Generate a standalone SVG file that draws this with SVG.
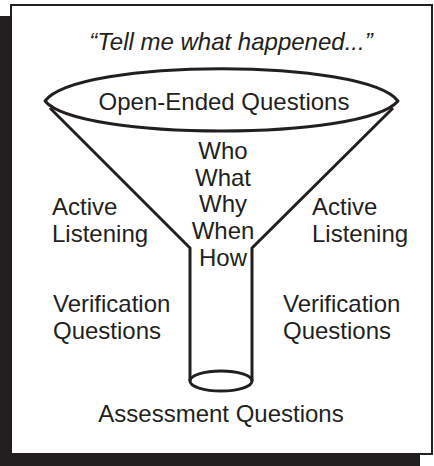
<svg xmlns="http://www.w3.org/2000/svg" width="434" height="466" viewBox="0 0 434 466">
<style>
text{font-family:"Liberation Sans",Arial,sans-serif;font-size:24px;fill:#231f20}
.c{text-anchor:middle}
.ln{fill:none;stroke:#231f20;stroke-width:3;stroke-linejoin:round}
</style>
<rect x="0" y="16" width="420" height="450" fill="#231f20"/>
<rect x="11" y="5" width="421" height="449" fill="#fff" stroke="#231f20" stroke-width="2"/>
<text class="c" x="231" y="49.5" font-style="italic">“Tell me what happened...”</text>
<g id="connectors">
<path class="ln" d="M50,108 L190,248 L190,381"/>
<path class="ln" d="M393,108 L252,248 L252,381"/>
</g>
<g id="top">
<path class="ln" d="M45,101 C78,58 364,58 398,101 C364,141 78,141 45,101 Z"/>
<text class="c" x="224" y="109.5">Open-Ended Questions</text>
</g>
<g id="bottom">
<ellipse class="ln" cx="221" cy="381" rx="31" ry="10"/>
<text class="c" x="221" y="422">Assessment Questions</text>
</g>
<g id="middle">
<text class="c" x="223" y="159">Who</text>
<text class="c" x="223" y="185.7">What</text>
<text class="c" x="223" y="212.4">Why</text>
<text class="c" x="223" y="239.1">When</text>
<text class="c" x="223" y="265.8">How</text>
</g>
<g id="active-left">
<text x="52" y="215">Active</text>
<text x="52" y="241.5">Listening</text>
</g>
<g id="active-right">
<text x="312" y="215">Active</text>
<text x="312" y="241.5">Listening</text>
</g>
<g id="verif-left">
<text x="53" y="312">Verification</text>
<text x="53" y="339">Questions</text>
</g>
<g id="verif-right">
<text x="283" y="312">Verification</text>
<text x="283" y="339">Questions</text>
</g>
</svg>
